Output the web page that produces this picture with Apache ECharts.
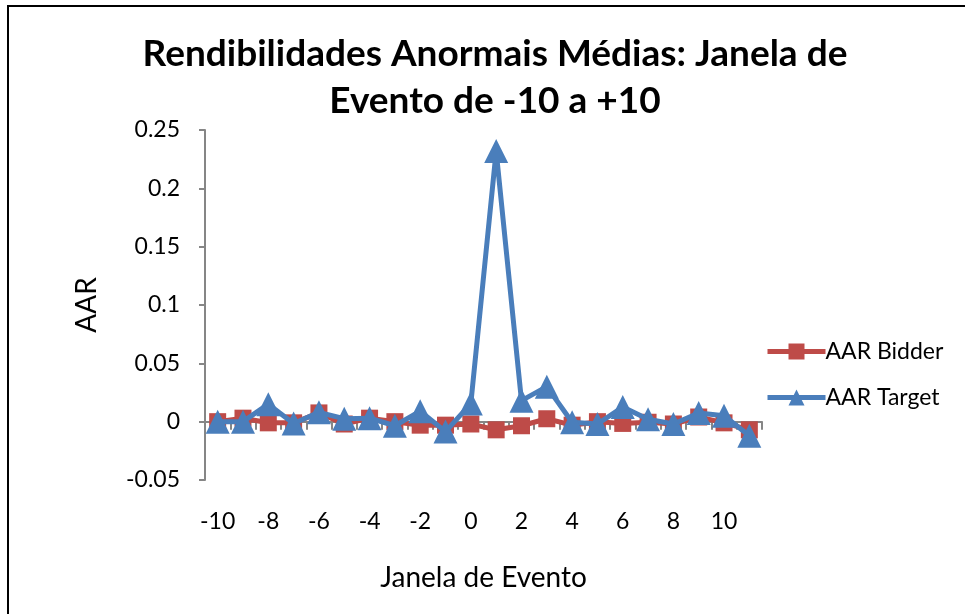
<!DOCTYPE html>
<html>
<head>
<meta charset="utf-8">
<script src="https://cdn.jsdelivr.net/npm/echarts@6/dist/echarts.min.js"></script>
<style>
html,body{margin:0;padding:0;background:#fff;}
#frame{position:absolute;left:7px;top:5px;width:1000px;height:700px;border:2px solid #000;box-sizing:border-box;}
#chart{position:absolute;left:0;top:0;width:965px;height:614px;}
</style>
</head>
<body>
<div id="frame"></div>
<div id="chart"></div>
<script>
const titleText = "Rendibilidades Anormais Médias: Janela de\nEvento de -10 a +10";
const xTitle = "Janela de Evento";
const yTitle = "AAR";
const categories = ["-10","-9","-8","-7","-6","-5","-4","-3","-2","-1","0","1","2","3","4","5","6","7","8","9","10","11"];
const aarBidder = [0.0, 0.003, -0.001, -0.001, 0.0075, -0.002, 0.003, 0.0, -0.003, -0.003, -0.002, -0.007, -0.0035, 0.0025, -0.003, 0.0, -0.0015, -0.0005, -0.002, 0.004, -0.001, -0.007];
const aarTarget = [0.0, 0.0, 0.015, -0.0015, 0.008, 0.0025, 0.003, -0.0035, 0.009, -0.0085, 0.0155, 0.232, 0.018, 0.030, -0.0005, -0.002, 0.0125, 0.002, -0.002, 0.0075, 0.005, -0.012];
const seriesNames = ["AAR Bidder", "AAR Target"];
const yTicks = {min: -0.05, max: 0.25, interval: 0.05};

const FONT = "Lato, 'Open Sans', sans-serif";
const chart = echarts.init(document.getElementById('chart'), null, {renderer: 'canvas'});
chart.setOption({
  animation: false,
  backgroundColor: 'transparent',
  textStyle: {fontFamily: FONT, color: '#000'},
  title: {
    text: titleText,
    left: 490, top: 26, textAlign: 'center',
    textStyle: {fontFamily: FONT, fontSize: 37, fontWeight: 'bold', color: '#000', lineHeight: 47}
  },
  legend: {
    orient: 'vertical',
    left: 760, top: 335,
    itemWidth: 58, itemHeight: 20, itemGap: 23,
    lineStyle: {width: 5},
    textStyle: {fontFamily: FONT, fontSize: 23, color: '#000', padding: [0,0,0,-5]},
    data: seriesNames
  },
  grid: {left: 205, top: 130, width: 557, height: 350, containLabel: false},
  xAxis: {
    type: 'category',
    data: categories,
    boundaryGap: true,
    name: xTitle, nameLocation: 'middle', nameGap: 84,
    nameTextStyle: {fontFamily: FONT, fontSize: 28, color: '#000', verticalAlign: 'top'},
    axisLine: {lineStyle: {color: '#868686', width: 2}},
    axisTick: {show: true, interval: 0, length: 8, lineStyle: {color: '#868686', width: 2}},
    axisLabel: {interval: 1, margin: 30, fontFamily: FONT, fontSize: 23, color: '#000'},
    splitLine: {show: false}
  },
  yAxis: {
    type: 'value',
    min: yTicks.min, max: yTicks.max, interval: yTicks.interval,
    name: yTitle, nameLocation: 'middle', nameGap: 104, nameRotate: 90,
    nameTextStyle: {fontFamily: FONT, fontSize: 28, color: '#000'},
    axisLine: {show: true, lineStyle: {color: '#868686', width: 2}},
    axisTick: {show: true, length: 6, lineStyle: {color: '#868686', width: 2}},
    axisLabel: {margin: 25, fontFamily: FONT, fontSize: 23, color: '#000'},
    splitLine: {show: false}
  },
  series: [
    {
      name: seriesNames[0], type: 'line', data: aarBidder,
      symbol: 'rect', symbolSize: 17, showAllSymbol: true,
      lineStyle: {color: '#BE4B48', width: 5},
      itemStyle: {color: '#BE4B48'},
      z: 2
    },
    {
      name: seriesNames[1], type: 'line', data: aarTarget,
      symbol: 'triangle', symbolSize: 24, showAllSymbol: true,
      lineStyle: {color: '#4A7EBB', width: 5},
      itemStyle: {color: '#4A7EBB'},
      z: 3
    }
  ]
});
</script>
</body>
</html>
